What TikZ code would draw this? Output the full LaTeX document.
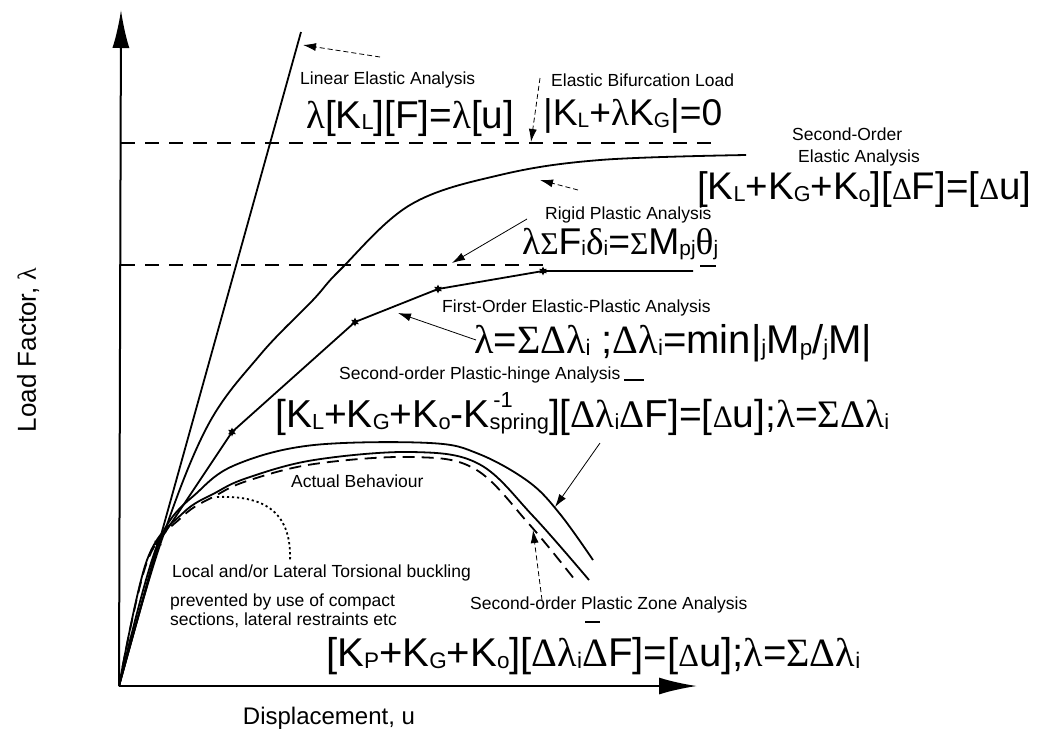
\documentclass[tikz,border=0pt]{standalone}
\usepackage{fontspec}
\usepackage{graphicx}
\setmainfont{Liberation Sans}
\newfontfamily\grk{Liberation Serif}
\usetikzlibrary{arrows.meta,shapes.geometric}
\newcommand\lo[1]{\raisebox{-0.05em}{\scalebox{0.56}{#1}}}
\newcommand\gl{{\grk λ}}
\newcommand\gS{{\grk Σ}}
\newcommand\gD{{\grk Δ}}
\newcommand\sD{{\grk\scalebox{0.8}{Δ}}}
\newcommand\sS{{\grk\scalebox{0.85}{Σ}}}
\newcommand\fw[2]{\resizebox{#1pt}{!}{#2}}
\begin{document}
\begin{tikzpicture}[x=1pt,y=-1pt,
  lbl/.style={font=\fontsize{17.5}{19.5}\selectfont, inner sep=0pt, anchor=west, align=left},
  fml/.style={font=\fontsize{36}{40}\selectfont, inner sep=0pt, anchor=west},
  axl/.style={font=\fontsize{24}{28}\selectfont, inner sep=0pt},
  curve/.style={line width=1.8pt},
  axis/.style={line width=2pt, -{Latex[length=38pt,width=17pt]}},
  thinarr/.style={line width=0.8pt, -{Latex[length=13pt,width=8pt]}},
  dasharr/.style={thinarr, dash pattern=on 5pt off 3pt},
  dline/.style={line width=1.5pt, dash pattern=on 14pt off 10pt},
  hinge/.style={star, star points=6, star point ratio=2, fill=black, inner sep=0pt, minimum size=9pt}]
\useasboundingbox[fill=white] (0,0) rectangle (1040,740);
% axes
\coordinate (O) at (119,686);
\coordinate (Ytop) at (121,10);
\coordinate (Xend) at (697,686);
\draw[axis] (O) -- (Ytop);
\draw[axis] (O) -- (Xend);
\node[axl] (xlab) at (329,718) {Displacement, u};
\node[axl, font=\fontsize{26}{30}\selectfont, rotate=90] (ylab) at (28,350) {Load Factor, \gl};
% dashed levels
\coordinate (d1a) at (121,143); \coordinate (d1b) at (716,143);
\draw[dline] (d1a) -- (d1b);
\coordinate (d2a) at (121,265); \coordinate (d2b) at (545,265);
\draw[dline] (d2a) -- (d2b);
\coordinate (d2c) at (700,266); \coordinate (d2d) at (716,266);
\draw[line width=1.5pt] (d2c) -- (d2d);
% linear elastic
\coordinate (LT) at (301,32);
\draw[curve] (O) -- (LT);
% second-order elastic
\draw[curve] plot[smooth, tension=0.6] coordinates {(119,686) (160,545) (207,427) (260,355) (313,300) (340,270) (410,205) (500,175) (600,160) (746,155)};
% first-order elastic-plastic
\node[hinge] (h1) at (158,543) {};
\node[hinge] (h2) at (232,432) {};
\node[hinge] (h3) at (355,322) {};
\node[hinge] (h4) at (438,289) {};
\node[hinge] (h5) at (543,271) {};
\coordinate (pend) at (693,271);
\draw[curve] (O) -- (h1.center) -- (h2.center) -- (h3.center) -- (h4.center) -- (h5.center) -- (pend);
% plastic hinge second-order (upper hump)
\draw[curve] plot[smooth, tension=0.6] coordinates {(119,686) (158,543) (200,490) (240,463) (314,445) (430,443) (479,454) (529,482) (560,514) (593,560)};
% actual behaviour
\draw[curve] plot[smooth, tension=0.6] coordinates {(119,686) (147,560) (183,513) (215,493) (247,478) (314,460) (412,452) (479,464) (533,516) (589,580)};
% plastic zone dashed
\draw[curve, dash pattern=on 12pt off 7pt] plot[smooth, tension=0.6] coordinates {(119,686) (147,562) (183,516) (215,496) (247,481) (314,464) (412,457) (475,469) (529,524) (575,580)};
% dotted buckling
\coordinate (b0) at (217,497);
\coordinate (b1) at (290,562);
\draw[line width=1.8pt, dash pattern=on 2.2pt off 2.8pt] (b0) .. controls (268,495) and (292,515) .. (b1);
% labels
\node[lbl] (tLin) at (300,80) {Linear Elastic Analysis};
\node[fml] (fLin) at (306,118) {\fw{208}{\gl[K\lo{L}][F]=\gl[u]}};
\node[lbl] (tBif) at (551,80) {Elastic Bifurcation Load};
\node[fml] (fBif) at (543,116) {\fw{179}{|K\lo{L}+\gl K\lo{G}|=0}};
\node[lbl] (tSOE) at (792,134) {Second-Order};
\node[lbl] (tSOE2) at (798,158) {Elastic Analysis};
\node[fml] (fSOE) at (697,190) {\fw{334}{[K\lo{L}+K\lo{G}+K\lo{o}][\sD F]=[\sD u]}};
\node[lbl] (tRig) at (545,215) {Rigid Plastic Analysis};
\node[fml] (fRig) at (522,244) {\fw{196}{\gl\sS F\lo{i}{\grk δ}\lo{i}=\sS M\lo{pj}{\grk θ}\lo{j}}};
\node[lbl] (tFOE) at (442,308) {First-Order Elastic-Plastic Analysis};
\node[fml] (fFOE) at (474,343) {\fw{398}{\gl=\gS\gD\gl\lo{i} ;\gD\gl\lo{i}=min|\lo{j}M\lo{p}/\lo{j}M|}};
\node[lbl] (tSOH) at (339,375) {Second-order Plastic-hinge Analysis};
\node[fml] (fSOH) at (275,414) {\fw{614}{[K\lo{L}+K\lo{G}+K\lo{o}-K\lo{sp\llap{\raisebox{1.02em}{-1}}ring}][\gD\gl\lo{i}\gD F]=[\sD u];\gl=\gS\gD\gl\lo{i}}};
\node[lbl] (tAct) at (291,481) {Actual Behaviour};
\node[lbl] (tLoc) at (172,573) {Local and/or Lateral Torsional buckling};
\node[lbl] (tPrev) at (170,611) {prevented by use of compact\\sections, lateral restraints etc};
\node[lbl] (tPZ) at (470,605) {Second-order Plastic Zone Analysis};
\node[fml] (fPZ) at (326,656) {\fw{534}{[K\lo{P}+K\lo{G}+K\lo{o}][\gD\gl\lo{i}\gD F]=[\sD u];\gl=\gS\gD\gl\lo{i}}};
% overbars
\coordinate (ob1) at (624,380); \coordinate (ob2) at (644,380);
\draw[line width=1.8pt] (ob1) -- (ob2);
\coordinate (ob3) at (585,622); \coordinate (ob4) at (600,622);
\draw[line width=1.8pt] (ob3) -- (ob4);
% pointer arrows
\coordinate (aLin0) at (380,57); \coordinate (aLin1) at (303,45);
\draw[dasharr] (aLin0) -- (aLin1);
\coordinate (aBif0) at (540,78); \coordinate (aBif1) at (531,142);
\draw[dasharr] (aBif0) -- (aBif1);
\coordinate (aSOE0) at (578,190); \coordinate (aSOE1) at (540,180);
\draw[dasharr] (aSOE0) -- (aSOE1);
\coordinate (aRig0) at (527,219); \coordinate (aRig1) at (452,263);
\draw[thinarr] (aRig0) -- (aRig1);
\coordinate (aFOE0) at (476,340); \coordinate (aFOE1) at (398,313);
\draw[thinarr] (aFOE0) -- (aFOE1);
\coordinate (aSOH0) at (600,443); \coordinate (aSOH1) at (555,507);
\draw[thinarr] (aSOH0) -- (aSOH1);
\coordinate (aPZ0) at (542,600); \coordinate (aPZ1) at (533,530);
\draw[dasharr] (aPZ0) -- (aPZ1);
\end{tikzpicture}
\end{document}
